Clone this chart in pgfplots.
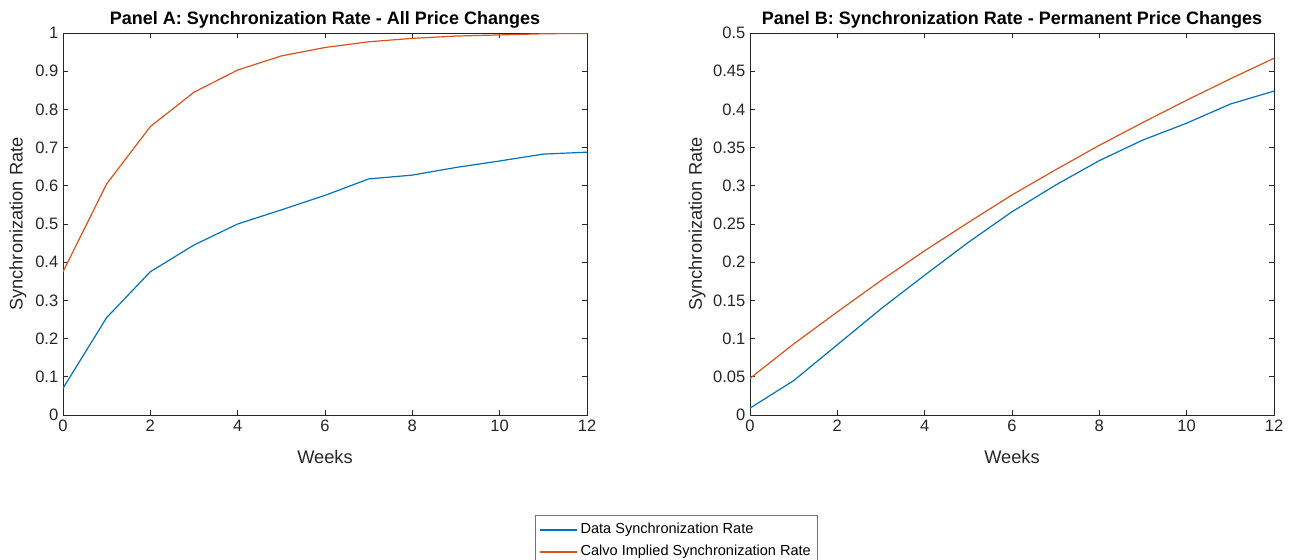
\documentclass[border=0pt]{standalone}
\usepackage{fontspec}
\setmainfont{Liberation Sans}
\usepackage{pgfplots}
\pgfplotsset{compat=1.18}

\definecolor{mblue}{rgb}{0,0.447,0.741}
\definecolor{morange}{rgb}{0.85,0.325,0.098}
\definecolor{axgray}{rgb}{0.15,0.15,0.15}

\pgfplotsset{
  synch/.style={
    scale only axis,
    width=393pt, height=286.5pt,
    xmin=0, xmax=12, xtick={0,2,...,12},
    axis line style={axgray, line width=0.6pt},
    tick style={axgray, line width=0.6pt},
    major tick length=3.9pt,
    tick align=inside, tick pos=both,
    ticklabel style={font=\fontsize{12.4}{14}\selectfont, text=axgray},
    /pgf/number format/assume math mode=true,
    xlabel={Weeks}, ylabel={Synchronization Rate},
    label style={font=\fontsize{13.7}{16}\selectfont, text=axgray},
    xlabel style={at={(axis description cs:0.5,-0.11)}, anchor=center},
    title style={font=\bfseries\fontsize{13.5}{16}\selectfont, at={(axis description cs:0.5,1.021)}, anchor=base, yshift=-6pt},
    every axis plot/.append style={line width=0.9pt},
  }
}

\begin{document}
\begin{tikzpicture}
\useasboundingbox (0pt,0pt) rectangle (972.75pt,-420pt);

% Panel A: all price changes
\begin{axis}[synch,
  at={(47.25pt,-311.25pt)}, anchor=south west,
  ymin=0, ymax=1, ytick={0,0.1,...,1.0},
  yticklabels={0,0.1,0.2,0.3,0.4,0.5,0.6,0.7,0.8,0.9,1},
  ylabel style={at={(axis description cs:-0.086,0.5)}, anchor=center},
  title={Panel A: Synchronization Rate - All Price Changes},
  legend cell align=left,
  legend style={at={(axis description cs:1.171,-0.262)}, anchor=north,
    draw=black!55, line width=0.5pt, fill=white,
    font=\fontsize{10.9}{13}\selectfont, text=black,
    inner xsep=3pt, inner ysep=4.25pt, row sep=3pt,
    nodes={inner xsep=2pt, inner ysep=1.5pt, text height=8pt, text depth=2.5pt}},
  legend image code/.code={\draw[#1] (0pt,0pt) -- (27.75pt,0pt);},
]
\addplot[mblue] coordinates {
  (0,0.070) (1,0.255) (2,0.375) (3,0.445) (4,0.500) (5,0.537) (6,0.575)
  (7,0.618) (8,0.628) (9,0.648) (10,0.665) (11,0.683) (12,0.688)};
\addlegendentry{Data Synchronization Rate}
\addplot[morange] coordinates {
  (0,0.375) (1,0.605) (2,0.755) (3,0.845) (4,0.903) (5,0.940) (6,0.962)
  (7,0.977) (8,0.986) (9,0.992) (10,0.995) (11,0.998) (12,0.999)};
\addlegendentry{Calvo Implied Synchronization Rate}
\end{axis}

% Panel B: permanent price changes
\begin{axis}[synch,
  at={(562.5pt,-311.25pt)}, anchor=south west,
  ymin=0, ymax=0.5, ytick={0,0.05,...,0.5},
  yticklabels={0,0.05,0.1,0.15,0.2,0.25,0.3,0.35,0.4,0.45,0.5},
  ylabel style={at={(axis description cs:-0.101,0.5)}, anchor=center},
  title={Panel B: Synchronization Rate - Permanent Price Changes},
]
\addplot[mblue] coordinates {
  (0,0.009) (1,0.045) (2,0.092) (3,0.139) (4,0.183) (5,0.226) (6,0.266)
  (7,0.301) (8,0.333) (9,0.360) (10,0.382) (11,0.407) (12,0.424)};
\addplot[morange] coordinates {
  (0,0.048) (1,0.093) (2,0.135) (3,0.176) (4,0.215) (5,0.252) (6,0.288)
  (7,0.321) (8,0.353) (9,0.383) (10,0.412) (11,0.440) (12,0.467)};
\end{axis}
\end{tikzpicture}
\end{document}
